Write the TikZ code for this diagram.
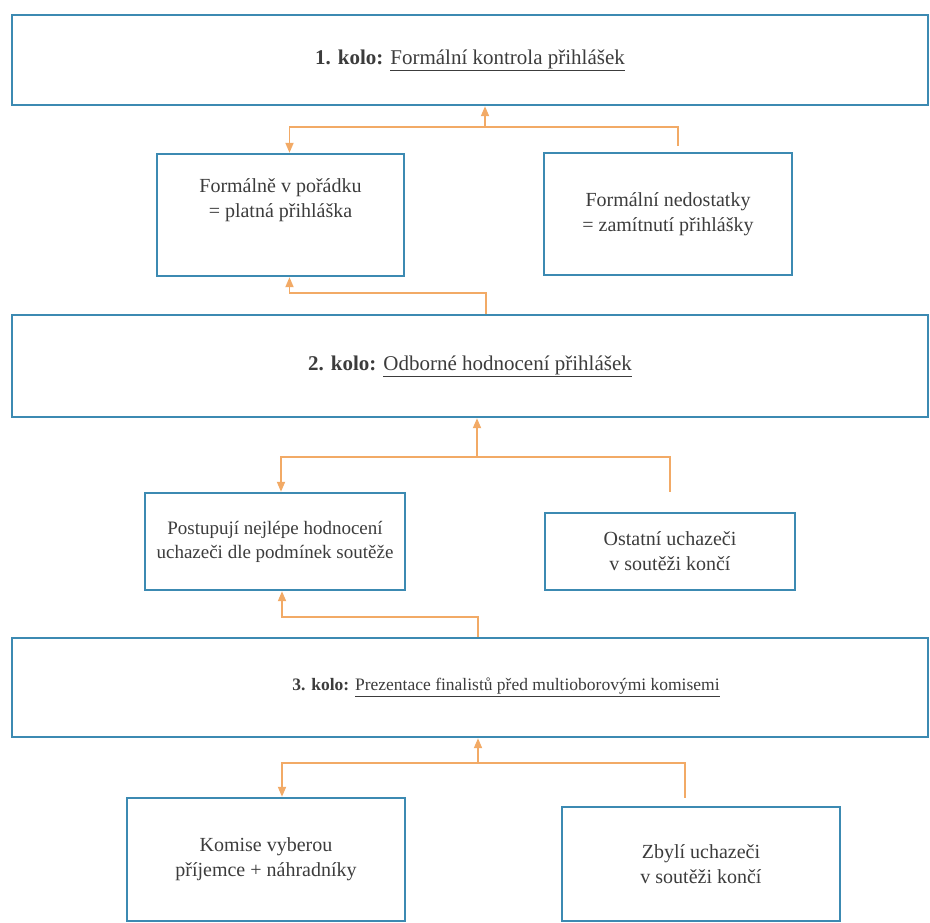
\documentclass[tikz,border=0pt]{standalone}
\usepackage{fontspec}
\setmainfont{Liberation Serif}
\usetikzlibrary{arrows.meta,positioning}
\definecolor{ramec}{RGB}{60,138,178}
\definecolor{spojnice}{RGB}{242,170,102}
\definecolor{pismo}{RGB}{60,60,60}
\tikzset{
    %standardni hrot sipky
    >={Triangle[length=10pt,width=8pt]},
    kolo/.style={
      rectangle,
      draw=ramec, line width=2.4pt,
      minimum width=916pt,
      text=pismo,
      font=\fontsize{21}{25}\selectfont},
    vysledek/.style={
      rectangle,
      draw=ramec, line width=2.4pt,
      align=center,
      text=pismo,
      font=\fontsize{20}{25}\selectfont},
    spoj/.style={
      draw=spojnice, line width=1.8pt},
}

\begin{document}
\begin{tikzpicture}[x=1pt,y=-1pt]
    \useasboundingbox (0,0) rectangle (930,923);
    % kola souteze
    \node (k1) [kolo, minimum height=90pt] at (470,60)
          {\textbf{1. kolo:} \underline{Formální kontrola přihlášek}};
    \node (k2) [kolo, minimum height=102pt] at (470,366)
          {\textbf{2. kolo:} \underline{Odborné hodnocení přihlášek}};
    \node (k3) [kolo, minimum height=99pt] at (470,687.5) {};
    \node (t3) [text=pismo, font=\fontsize{17.5}{21}\selectfont] at ([xshift=36pt]k3.center)
          {\textbf{3. kolo:} \underline{Prezentace finalistů před multioborovými komisemi}};
    % vysledky
    \node (ok1) [vysledek, minimum width=247pt, minimum height=122pt] at (280.5,215)
          {Formálně v pořádku\\= platná přihláška\\[8pt]};
    \node (zam1) [vysledek, minimum width=248pt, minimum height=122pt] at (668,214)
          {Formální nedostatky\\= zamítnutí přihlášky};
    \node (post2) [vysledek, minimum width=260pt, minimum height=97pt, font=\fontsize{19}{24}\selectfont] at (275,541.5)
          {Postupují nejlépe hodnocení\\uchazeči dle podmínek soutěže};
    \node (dal2) [vysledek, minimum width=250pt, minimum height=77pt] at (670,551.5)
          {Ostatní uchazeči\\v soutěži končí};
    \node (kom3) [vysledek, minimum width=278pt, minimum height=123pt] at (266,859.5)
          {Komise vyberou\\příjemce + náhradníky};
    \node (zbyl3) [vysledek, minimum width=278pt, minimum height=114pt] at (701,864)
          {Zbylí uchazeči\\v soutěži končí};
    % spojnice
    \coordinate (s1) at (485,127);
    \draw[spoj,->] (s1) -- (s1 |- k1.south);
    \draw[spoj,->] ([xshift=10pt,yshift=6pt]zam1.north) |- (s1) -| ([xshift=9pt]ok1.north);
    \coordinate (s2) at (486,293);
    \draw[spoj,->] (s2 |- k2.north) -- (s2) -| ([xshift=9pt]ok1.south);
    \coordinate (s3) at (477,457);
    \draw[spoj,->] (s3) -- (s3 |- k2.south);
    \draw[spoj,->] ([yshift=20pt]dal2.north) |- (s3) -| ([xshift=6pt]post2.north);
    \coordinate (s4) at (478,617);
    \draw[spoj,->] (s4 |- k3.north) -- (s4) -| ([xshift=7pt]post2.south);
    \coordinate (s5) at (478,763);
    \draw[spoj,->] (s5) -- (s5 |- k3.south);
    \draw[spoj,->] ([xshift=-16pt,yshift=8pt]zbyl3.north) |- (s5) -| ([xshift=16pt]kom3.north);
\end{tikzpicture}
\end{document}
